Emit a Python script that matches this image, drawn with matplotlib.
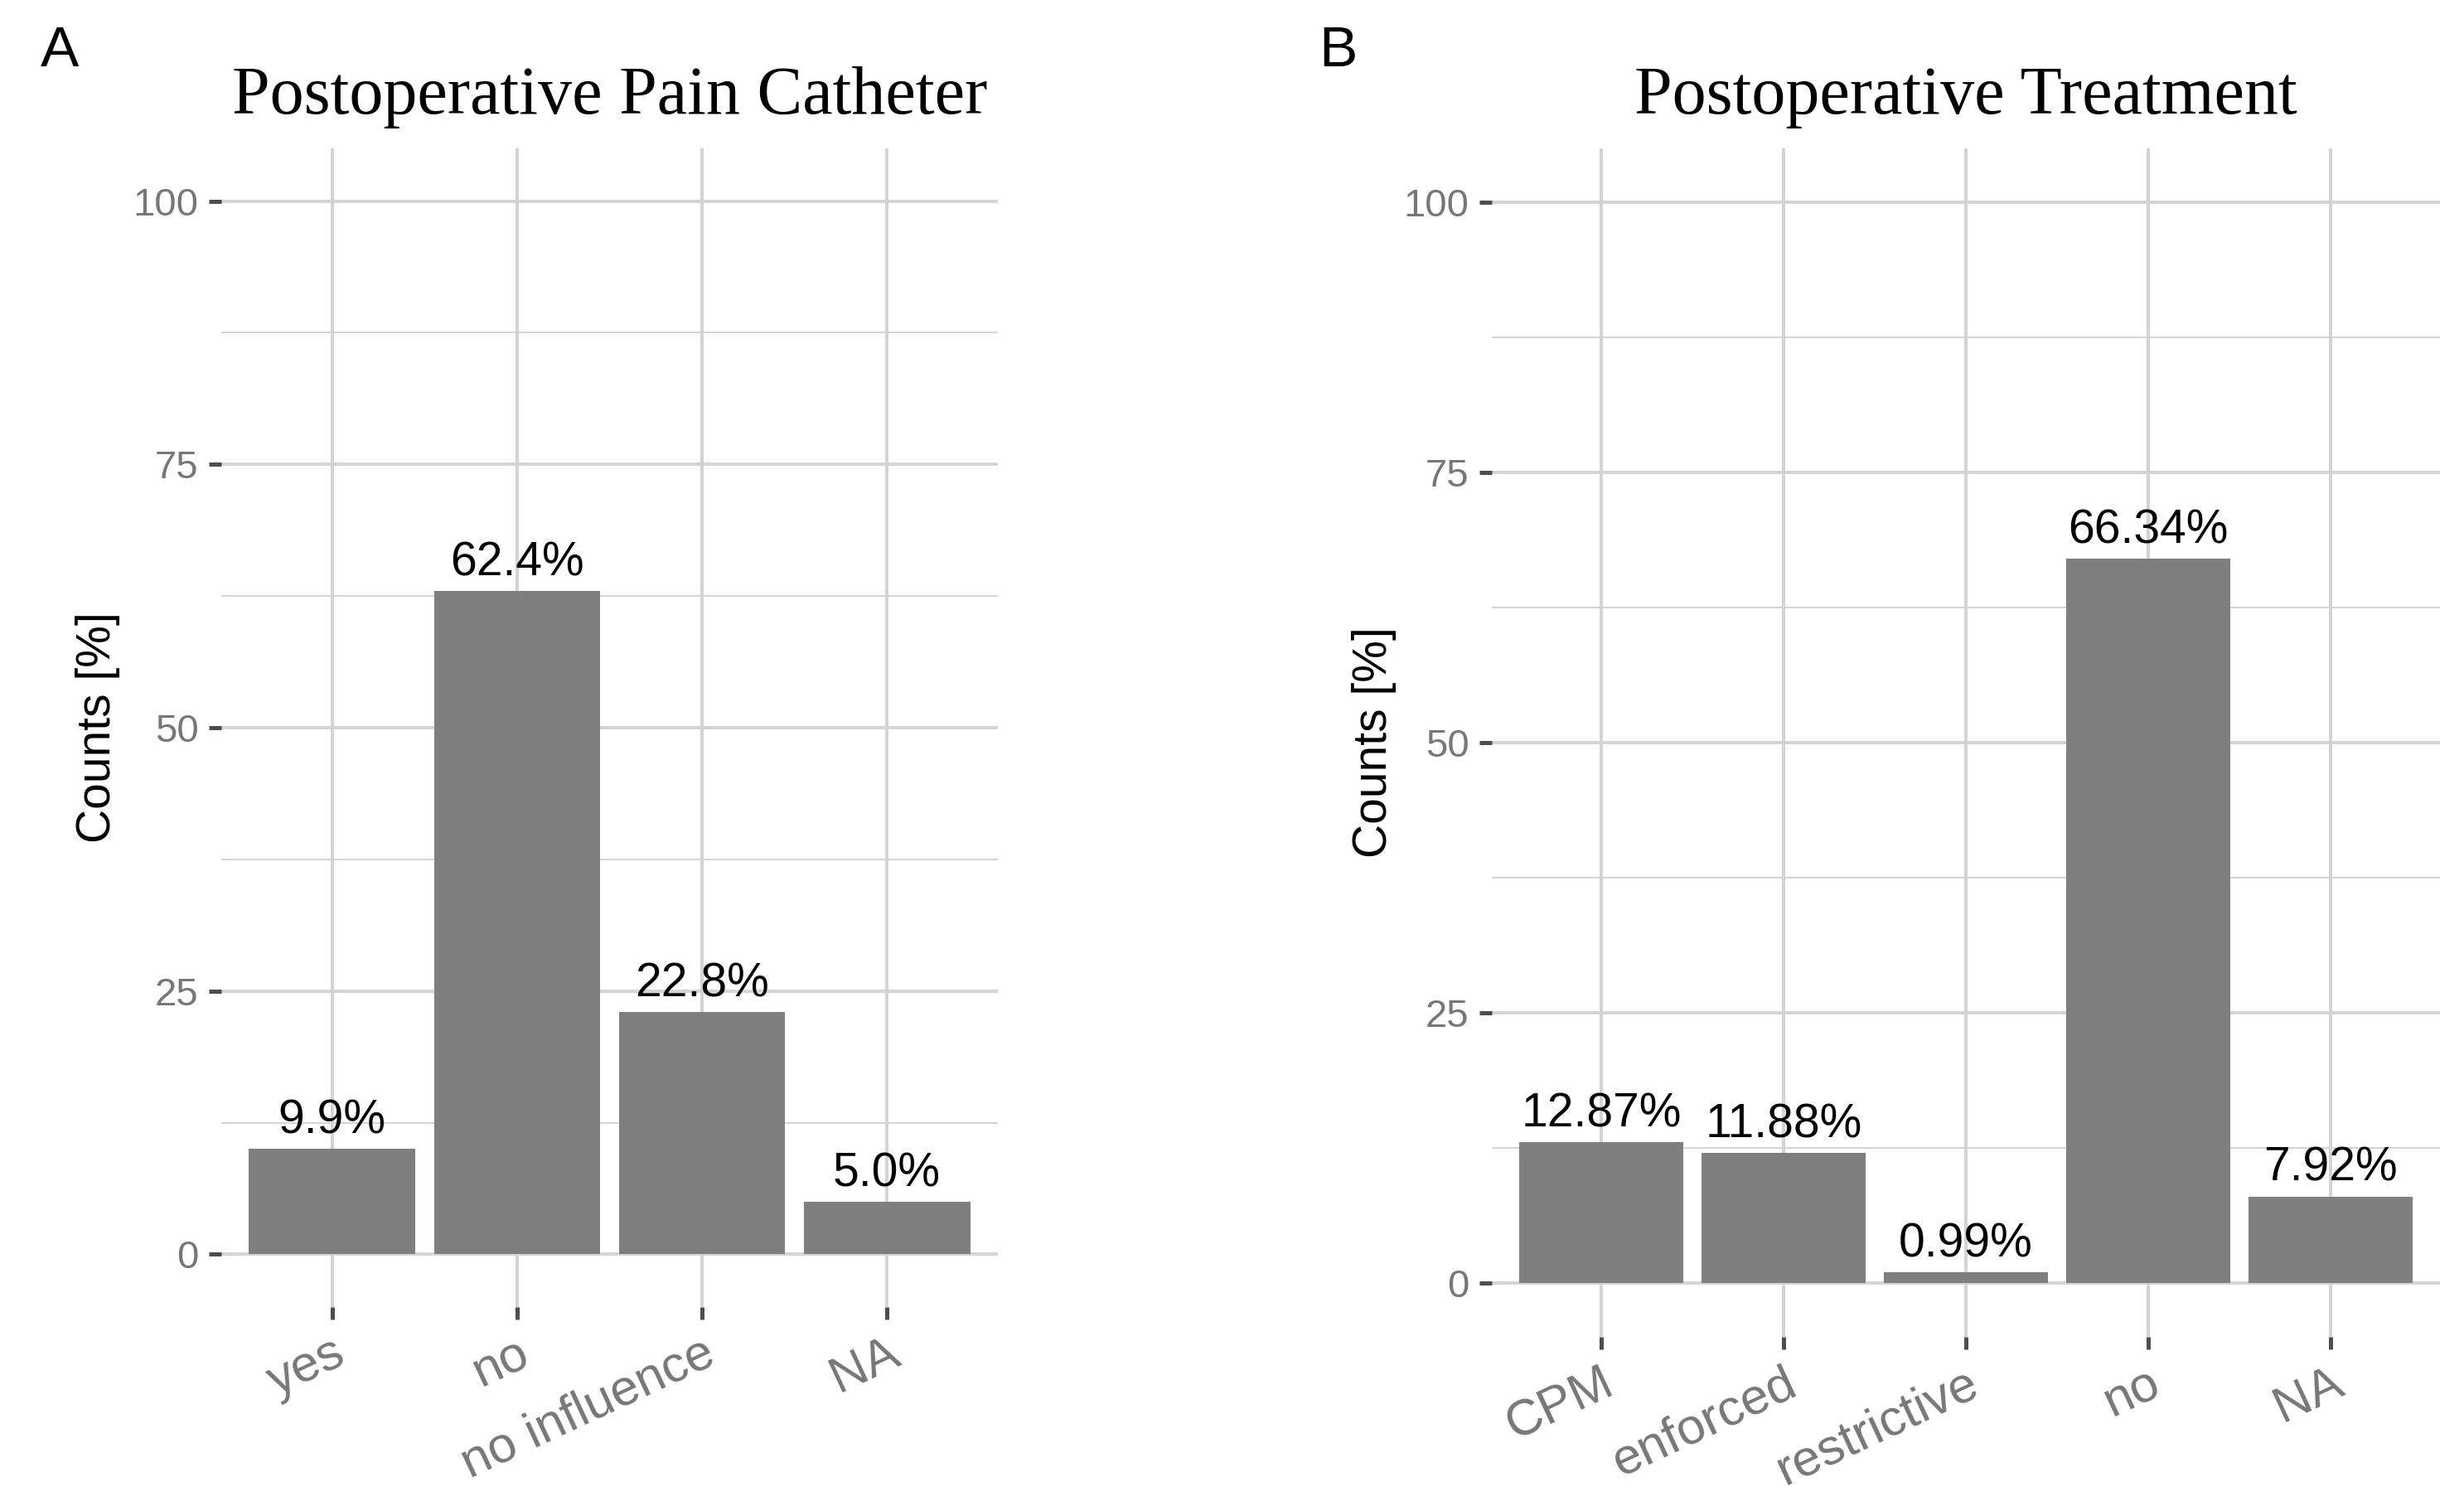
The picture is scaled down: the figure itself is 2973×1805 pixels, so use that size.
import matplotlib.pyplot as plt
from matplotlib.ticker import FixedLocator

# data (counts out of n = 101, labels are the printed percentages)
catheter_labels = ["yes", "no", "no influence", "NA"]
catheter_counts = [10, 63, 23, 5]
catheter_pct = ["9.9%", "62.4%", "22.8%", "5.0%"]

treatment_labels = ["CPM", "enforced", "restrictive", "no", "NA"]
treatment_counts = [13, 12, 1, 67, 8]
treatment_pct = ["12.87%", "11.88%", "0.99%", "66.34%", "7.92%"]

y_ticks = [0, 25, 50, 75, 100]
y_minor = [12.5, 37.5, 62.5, 87.5]

W, H = 2973, 1805
plt.rcParams['font.family'] = ['Liberation Sans', 'DejaVu Sans']

GRID = "#d3d3d3"
BAR = "#7f7f7f"


def draw_panel(fig, rect, labels, counts, pct, title, letter, letter_x):
    """Draws one ggplot-like bar panel. rect is in pixels: left, top, right, bottom."""
    left, top, right, bottom = rect
    ax = fig.add_axes([left / W, 1 - bottom / H, (right - left) / W, (bottom - top) / H])
    x = list(range(len(labels)))
    ax.bar(x, counts, width=0.9, color=BAR, zorder=3)
    for xi, c, p in zip(x, counts, pct):
        ax.annotate(p, (xi, c), xytext=(0, 13.5), textcoords="offset points",
                    ha="center", va="baseline", fontsize=41, color="black", zorder=4)

    ax.set_xlim(-0.6, len(labels) - 0.4)
    ax.set_ylim(-5, 105)
    ax.set_xticks(x)
    ax.set_xticklabels(labels)
    ax.set_yticks(y_ticks)
    ax.yaxis.set_minor_locator(FixedLocator(y_minor))

    ax.set_axisbelow(True)
    ax.grid(which="major", color=GRID, linewidth=2.8)
    ax.grid(which="minor", axis="y", color=GRID, linewidth=1.4)
    for s in ax.spines.values():
        s.set_visible(False)

    ax.tick_params(axis="both", which="major", length=10.8, width=3.6, color="#4d4d4d",
                   labelcolor="#777777")
    ax.tick_params(axis="y", which="minor", length=0)
    ax.tick_params(axis="y", labelsize=34, pad=9)
    ax.tick_params(axis="x", labelsize=44, pad=9)
    plt.setp(ax.get_xticklabels(), rotation=25, ha="right", rotation_mode="anchor")

    cx = (left + right) / 2
    fig.text(cx / W, 1 - 137 / H, title, ha="center", va="baseline",
             fontsize=59, family=["Liberation Serif", "DejaVu Serif"])
    fig.text(letter_x / W, 1 - 80 / H, letter, ha="left", va="baseline", fontsize=50)
    return ax


fig = plt.figure(figsize=(W / 100, H / 100), dpi=100)

draw_panel(fig, (267, 179, 1204, 1577), catheter_labels, catheter_counts, catheter_pct,
           "Postoperative Pain Catheter", "A", 49)
fig.text(118 / W, 1 - 878 / H, "Counts [%]", rotation=90, ha="center", va="center",
         fontsize=41)

draw_panel(fig, (1800, 179, 2944, 1613), treatment_labels, treatment_counts, treatment_pct,
           "Postoperative Treatment", "B", 1591)
fig.text(1658 / W, 1 - 896 / H, "Counts [%]", rotation=90, ha="center", va="center",
         fontsize=41)

fig.savefig("out.png", dpi=100, facecolor="white")
